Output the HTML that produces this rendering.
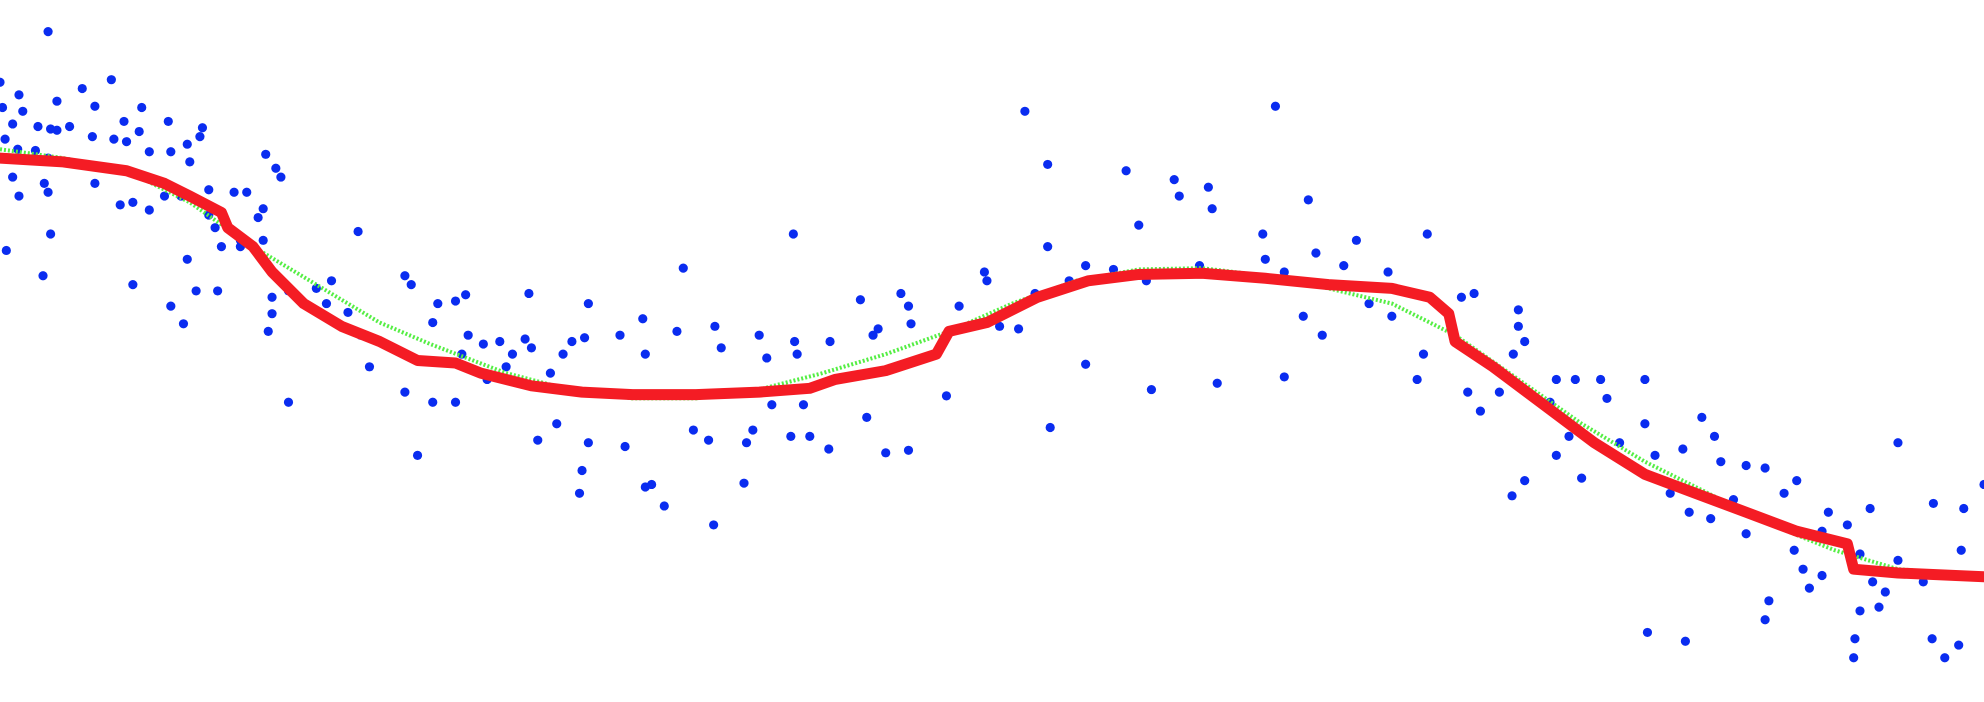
<!DOCTYPE html>
<html><head><meta charset="utf-8"><style>html,body{margin:0;padding:0;background:#fff;overflow:hidden}svg{display:block}</style></head>
<body>
<svg id="chart" width="1984" height="702" viewBox="0 0 1984 702" xmlns="http://www.w3.org/2000/svg">
<g id="scatter"></g>
<g id="lines"></g>
</svg>
<script>
const greenX=[0,50,100,150,200,250,300,340,400,450,500,550,600,650,700,750,800,850,900,950,1000,1050,1100,1150,1200,1250,1300,1350,1400,1450,1500,1568];
const greenY=[118,125,135,160,195,225,255,272,295,308,315,315,308,295,280,262,240,222,213,212,218,228,240,265,300,335,365,390,415,435,450,455];
const redX=[0,50,100,130,150,175,180,200,215,240,270,300,330,360,380,420,460,500,550,600,640,660,700,740,750,780,820,860,900,950,1000,1050,1100,1130,1145,1150,1180,1220,1260,1300,1340,1380,1420,1460,1465,1500,1568];
const redY=[125,128,135,145,155,168,180,195,215,240,258,270,285,287,295,305,310,312,312,310,307,300,293,280,262,255,235,222,217,216,220,225,228,235,248,270,290,320,350,375,390,405,420,430,450,453,456];
const blueX=[38,88,65,0,15,2,18,45,10,30,40,45,55,75,98,112,110,133,160,158,148,135,150,4,14,28,38,55,73,90,100,118,10,35,75,15,38,95,105,118,130,143,165,165,170,185,195,210,218,222,208,204,190,175,190,208,5,40,34,105,148,155,135,145,172,215,215,228,212,228,250,258,262,275,283,285,292,300,320,325,342,346,360,368,370,365,382,395,405,415,420,400,418,435,445,452,465,462,490,508,510,540,535,565,570,600,606,627,628,630,656,680,690,712,718,720,694,758,778,780,790,805,818,828,810,828,845,858,880,890,900,906,928,932,955,958,948,1008,1034,998,1000,1015,1040,1062,1072,1097,1128,1100,1082,1155,1165,1200,1200,1205,1196,320,330,342,360,385,425,440,460,465,458,494,510,515,525,548,560,564,588,595,590,625,610,635,640,655,685,700,718,748,830,858,910,962,1015,1045,1030,1120,1125,1160,1170,1185,1195,1205,1225,1230,1245,1265,1270,1300,1240,1250,1230,1280,1300,1308,1330,1345,1355,1360,1380,1300,1320,1335,1352,1370,1380,1395,1410,1420,1440,1445,1478,1500,1418,1425,1440,1460,1470,1480,1500,1528,1552,1568,1550,1520,1490,1485,1470,1466,1395,1398,1465,1430,1302,1332,1527,1548,1537];
const blueY=[25,63,70,65,75,85,88,80,98,100,102,103,100,84,96,85,104,96,101,108,114,120,128,110,118,119,125,128,108,110,112,120,140,145,145,155,152,162,160,166,155,155,150,170,180,152,152,122,133,140,165,172,190,195,195,190,198,185,218,225,205,230,242,256,230,235,248,230,262,318,228,240,222,247,183,265,290,270,218,225,255,240,238,233,265,280,272,270,280,268,275,290,232,295,280,270,240,267,265,252,280,212,262,258,275,265,283,185,270,280,270,237,265,232,242,256,260,242,215,222,258,260,232,130,88,195,222,210,213,135,178,222,142,155,148,165,210,84,158,185,205,215,200,210,190,215,185,250,240,235,232,245,258,270,280,310,360,318,318,300,348,335,372,350,390,353,385,383,400,340,348,415,382,340,350,345,320,320,345,355,330,358,356,313,338,288,308,303,298,265,250,300,280,310,325,310,392,380,318,300,300,300,315,300,345,378,360,350,335,360,355,330,345,365,368,375,390,405,410,395,422,370,390,380,420,405,402,350,435,450,455,415,438,460,443,398,402,383,435,460,468,480,483,505,490,475,520,465,500,507,505,510,520];
const xs=v=>v*1984/1568, ys=v=>v*702/555;
const NS='http://www.w3.org/2000/svg';
const sg=document.getElementById('scatter');
for(let i=0;i<blueX.length;i++){
 const c=document.createElementNS(NS,'circle');
 c.setAttribute('cx',xs(blueX[i]));c.setAttribute('cy',ys(blueY[i]));c.setAttribute('r',4.6);c.setAttribute('fill','#0a2cf0');
 
 
 sg.appendChild(c);
}
const lg=document.getElementById('lines');
function line(X,Y,attrs,name){
 const p=document.createElementNS(NS,'polyline');
 p.setAttribute('points',X.map((x,i)=>xs(x)+','+ys(Y[i])).join(' '));
 for(const k in attrs)p.setAttribute(k,attrs[k]);
 
 
 lg.appendChild(p);
}
line(greenX,greenY,{fill:'none',stroke:'#55ee44',"stroke-width":4,"stroke-dasharray":"2 2"},'true-curve');
line(redX,redY,{fill:'none',stroke:'#f41c24',"stroke-width":11,"stroke-linejoin":"round","stroke-linecap":"round"},'fitted-curve');
</script>
</body></html>
